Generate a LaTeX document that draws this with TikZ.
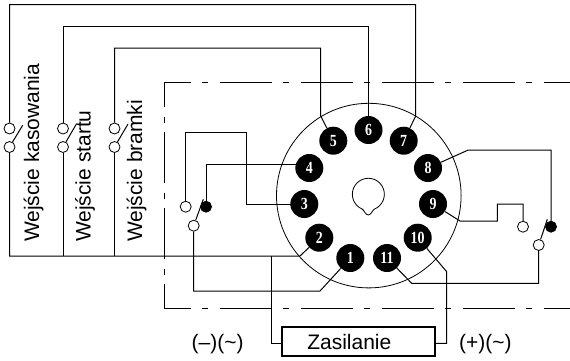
\documentclass[tikz,border=0pt]{standalone}
\usepackage{fontspec}
\setmainfont{Liberation Sans}
\newfontfamily\pinfont[FakeStretch=0.82]{Liberation Serif}
\tikzset{
  x=1pt,y=-1pt,
  wire/.style={line width=1pt,line join=miter},
  pinnode/.style={circle,fill=black,minimum size=28pt,inner sep=0pt,text=white,font=\pinfont\fontsize{17}{17}\selectfont\bfseries},
  openc/.style={circle,draw=black,fill=white,line width=0.8pt,minimum size=11pt,inner sep=0pt},
  fullc/.style={circle,draw=black,fill=black,line width=0.8pt,minimum size=11pt,inner sep=0pt},
  framehoriz/.style={line width=1pt,dash pattern=on 52pt off 11.5pt on 6pt off 11.5pt,dash phase=26pt},
  framevert/.style={line width=1pt,dash pattern=on 51pt off 10pt on 6pt off 9pt,dash phase=26.5pt},
  lbl/.style={font=\fontsize{21}{21}\selectfont,inner sep=0pt},
}
\begin{document}
\begin{tikzpicture}
\useasboundingbox (0,0) rectangle (570,360);
% frame
\coordinate (ft) at (570,82);
\coordinate (fc1) at (164.5,82);
\coordinate (fc2) at (164.5,308.7);
\coordinate (fb) at (570,308.7);
\draw[framehoriz] (fc1) -- (ft);
\draw[framehoriz] (fc2) -- (fb);
\draw[framevert] (fc1) -- (fc2);
% socket
\coordinate (cc) at (368.8,195.6);
\draw[line width=0.8pt] (cc) circle[radius=92.3];
\draw[line width=0.8pt] (362,209) .. controls (364,210) and (365.5,215) .. (368.3,215) .. controls (371,215) and (372.5,210) .. (374.6,209)
  arc[start angle=67,end angle=-247,radius=16] -- cycle;
% switches - nodes
\node[openc] (a1) at (9.5,128.5) {}; \node[openc] (a2) at (9.5,147) {};
\node[openc] (b1) at (63,128.5) {}; \node[openc] (b2) at (63,147) {};
\node[openc] (c1) at (114.5,128.5) {}; \node[openc] (c2) at (114.5,147) {};
\node[openc] (l1) at (185.7,206.7) {}; \node[fullc] (l2) at (206,206.7) {}; \node[openc] (l3) at (193.7,225.7) {};
\node[openc] (r1) at (523,226.7) {}; \node[fullc] (r2) at (551,226.7) {}; \node[openc] (r3) at (538.7,245) {};
% pins
\node[pinnode] (p1) at (350.3,258) {1};
\node[pinnode] (p2) at (319.3,237.7) {2};
\node[pinnode] (p3) at (304.3,204) {3};
\node[pinnode] (p4) at (309.3,168) {4};
\node[pinnode] (p5) at (333.3,140.7) {5};
\node[pinnode] (p6) at (368.5,130) {6};
\node[pinnode] (p7) at (403.7,140.7) {7};
\node[pinnode] (p8) at (428,168) {8};
\node[pinnode] (p9) at (433,204) {9};
\node[pinnode] (p10) at (417.7,237.7) {10};
\node[pinnode] (p11) at (387,258) {11};
% box
\node[draw=black,line width=2.2pt,minimum width=153pt,minimum height=29pt,inner sep=0pt,font=\fontsize{21}{21}\selectfont] (zas) at (358.3,341.7) {Zasilanie\hspace*{18pt}};
% wires
\draw[wire] (a1) -- (9.5,4.5) -- (415.7,4.5) -- (415.7,116) -- (p7);
\draw[wire] (b1) -- (63,26) -- (368.5,26) -- (p6);
\draw[wire] (c1) -- (114.5,48) -- (320.7,48) -- (320.7,116) -- (p5);
\draw[wire] (a2) -- (9.5,256) -- (300,256) -- (p2);
\draw[wire] (b2) -- (63,256);
\draw[wire] (c2) -- (114.5,256);
\draw[wire] (l1) -- (185.7,132.3) -- (246.3,132.3) -- (246.3,204.3) -- (p3.center |- 0,204.3);
\draw[wire] (l2) -- (206,164.3) -- (p4.center |- 0,164.3);
\draw[wire] (l3) -- (193.7,291) -- (320,291) -- (p1);
\draw[wire] (271,256) -- (271,343.3) -- (zas.west |- 0,343.3);
\draw[wire] (zas.east |- 0,343.3) -- (446.7,343.3) -- (446.7,271.7) -- (p10);
\draw[wire] (p11) -- (411.7,283.3) -- (538.7,283.3) -- (r3);
\draw[wire] (p8) -- (468.3,150) -- (551,150) -- (r2);
\draw[wire] (p9) -- (460,221) -- (497.3,221) -- (497.3,204) -- (523,204) -- (r1);
% levers
\coordinate (la) at (22.7,125.3); \coordinate (lb) at (76.7,123.5); \coordinate (lc) at (128,124);
\coordinate (ld) at (203.3,199.3); \coordinate (le) at (547.3,219.3);
\draw[wire] (la) -- (a2);
\draw[wire] (lb) -- (b2);
\draw[wire] (lc) -- (c2);
\draw[wire] (ld) -- (l3);
\draw[wire] (le) -- (r3);
% labels
\node[lbl,rotate=90,anchor=base west] (t1) at (39,242) {Wejście kasowania};
\node[lbl,rotate=90,anchor=base west] (t2) at (90.5,242) {Wejście startu};
\node[lbl,rotate=90,anchor=base west] (t3) at (142,242) {Wejście bramki};
\node[lbl,anchor=base west] (t4) at (191.5,349) {(–)(\char"007E)};
\node[lbl,anchor=base west] (t5) at (459,349) {(+)(\char"007E)};
\end{tikzpicture}
\end{document}
